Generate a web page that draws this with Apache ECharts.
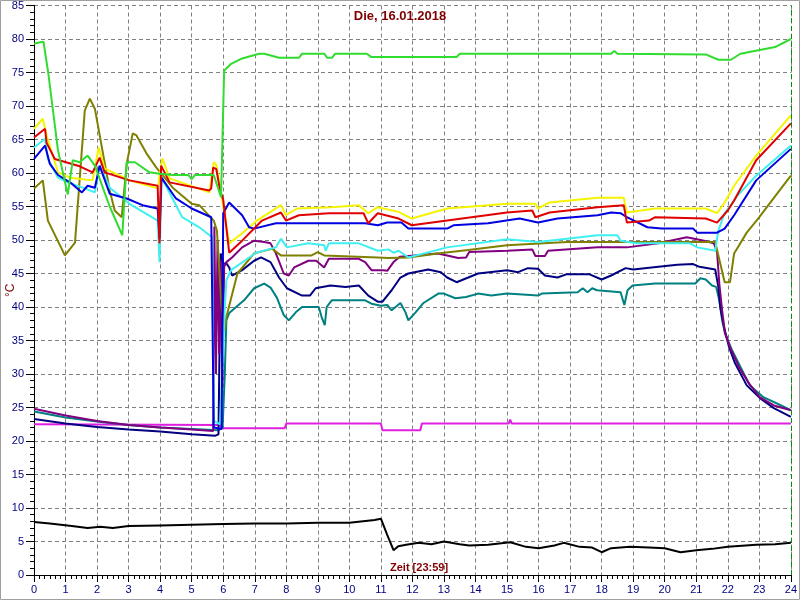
<!DOCTYPE html>
<html>
<head>
<meta charset="utf-8">
<script src="https://cdn.jsdelivr.net/npm/echarts@6/dist/echarts.min.js"></script>
<style>
html,body{margin:0;padding:0;background:#fff;}
#chart{width:800px;height:600px;}
</style>
</head>
<body>
<div id="chart"></div>
<script>
// ---- data: [hour, °C] ----
const titleText = 'Die, 16.01.2018';
const xName = 'Zeit [23:59]';
const yName = '°C';
const xTicks = [0,1,2,3,4,5,6,7,8,9,10,11,12,13,14,15,16,17,18,19,20,21,22,23,24];
const yTicks = [0,5,10,15,20,25,30,35,40,45,50,55,60,65,70,75,80,85];

const green = [[0,79.3],[0.2,79.5],[0.3,79.6],[0.45,75],[0.76,63.4],[1.07,56.8],[1.23,61.9],[1.45,61.6],[1.7,62.6],[1.93,61.1],[2.4,55],[2.8,50.7],[2.94,61.6],[3.2,61.6],[3.66,60.1],[3.98,59.9],[4.4,59.7],[4.9,59.7],[5.0,59.1],[5.1,59.7],[5.7,59.7],[5.93,56.4],[6.03,75.3],[6.25,76.3],[6.6,77.1],[7.14,77.8],[7.3,77.8],[7.77,77.2],[8.4,77.2],[8.5,77.8],[9.2,77.8],[9.3,77.2],[9.45,77.2],[9.55,77.8],[10.55,77.8],[10.7,77.3],[13.4,77.3],[13.5,77.8],[18.3,77.8],[18.4,78.2],[18.5,77.8],[21.3,77.7],[21.7,76.9],[22.1,76.9],[22.4,77.8],[23.5,78.8],[24,80]];
const olive = [[0,57.7],[0.28,58.9],[0.44,52.9],[0.98,47.7],[1.3,49.6],[1.61,69.3],[1.77,71.1],[1.93,69.6],[2.4,57.4],[2.56,54.4],[2.78,53.4],[2.94,61.4],[3.13,65.9],[3.25,65.6],[3.57,62.9],[3.88,60.8],[4.4,57.8],[5.0,55.4],[5.24,55.2],[5.7,52.9],[5.8,51.4],[5.95,40],[6.05,36.5],[6.1,38.5],[6.45,45],[6.98,48],[7.55,48.7],[7.83,47.7],[8.8,47.7],[9.0,48.2],[9.2,47.7],[10.9,47.4],[11.24,47.3],[11.87,47.4],[12.8,48],[13.77,48.5],[15.0,49.2],[16.9,49.7],[21.6,49.7],[21.66,48.5],[21.9,43.7],[22.07,43.7],[22.2,48],[22.6,51.1],[23.0,53.4],[23.4,55.9],[24,59.6]];
const yellow = [[0,66.6],[0.28,68.1],[0.4,65.6],[0.76,60.1],[1.14,59.3],[1.86,58.9],[2.05,63.8],[2.24,60.7],[3.03,58.9],[3.92,57.7],[4.07,62.2],[4.3,59.2],[5.56,57.1],[5.7,61.6],[5.78,61.2],[5.9,58],[6.0,55],[6.19,49.5],[6.6,51],[7.07,52.9],[7.83,55.2],[7.99,53.7],[8.34,54.7],[9.44,54.9],[10.3,55.2],[10.6,54],[10.9,54.9],[11.56,54.2],[11.98,53.2],[13.1,54.7],[15.0,55.4],[15.9,55.4],[15.98,54.7],[16.35,55.6],[17.87,56.3],[18.7,56.3],[18.8,54.1],[19.7,54.7],[21.3,54.7],[21.66,54],[21.9,55.6],[22.2,58.1],[22.9,62.6],[24,68.6]];
const red = [[0,65.3],[0.35,66.6],[0.4,64.5],[0.66,62.1],[1.45,61],[1.86,60.1],[2.08,62.3],[2.24,60.1],[3.03,58.9],[3.92,58.1],[3.98,49.5],[4.03,61.1],[4.3,58.6],[5.56,57.4],[5.62,57.7],[5.68,60.8],[5.78,60.6],[5.9,57.4],[6.0,56],[6.19,48.1],[6.6,49.9],[7.23,52.9],[7.83,54.1],[7.99,52.9],[8.4,53.7],[9.35,54],[10.45,54],[10.6,52.5],[10.9,54],[11.56,53.2],[11.98,52.2],[13.1,52.9],[15.0,54.1],[15.8,54.4],[15.9,53.4],[16.35,54.1],[17.87,54.9],[18.7,55.2],[18.8,52.6],[19.5,52.9],[19.7,53.4],[21.3,53.2],[21.66,52.6],[22.0,54.4],[22.2,55.9],[22.9,61.9],[24,67.4]];
const cyan = [[0,63.8],[0.35,65.1],[0.44,62.1],[0.76,59.3],[1.07,58.6],[1.61,57.7],[1.93,57.1],[2.08,61.1],[2.4,57.8],[3.03,55.4],[3.92,52.9],[3.98,46.7],[4.05,59.3],[4.7,53.4],[5.24,51.9],[5.65,50.4],[5.7,23],[5.9,22.5],[6.05,40],[6.1,44],[6.25,45.5],[7.04,48.1],[7.67,48.9],[7.83,50.2],[8.02,48.9],[8.7,49.5],[9.2,49.2],[9.25,48.4],[9.35,49.5],[10.3,49.5],[10.9,48.4],[11.24,48.6],[11.4,48.1],[11.56,48.4],[11.87,47.4],[13.1,48.9],[15.0,50.1],[15.98,49.7],[17.87,50.7],[18.5,50.7],[18.6,49.9],[19.1,49.5],[20.8,49.5],[21.03,48.9],[21.6,48.4],[21.7,51.4],[21.9,54],[22.1,55.2],[22.3,56.6],[22.9,59.6],[24,64.1]];
const blue = [[0,62.1],[0.35,64.1],[0.5,61.4],[0.76,59.7],[1.2,58.4],[1.52,57.1],[1.7,58.1],[1.93,57.8],[2.08,61.1],[2.4,56.9],[2.94,56.2],[3.44,55.2],[3.92,54.7],[3.98,50.2],[4.04,59.3],[4.5,56.2],[5.0,54.7],[5.62,53.4],[5.66,53.2],[5.7,22],[5.95,21.8],[6.0,54],[6.19,55.6],[6.6,53.7],[6.82,51.9],[6.98,51.7],[7.67,52.5],[10.5,52.5],[10.9,52.2],[11.2,52.6],[11.65,52.6],[11.87,51.7],[13.1,51.7],[13.3,52.2],[14.4,52.5],[15.4,53.2],[15.98,52.6],[16.6,53.2],[17.87,53.7],[18.3,54.1],[18.6,54],[18.8,53.4],[19.45,51.9],[19.9,51.7],[20.9,51.7],[21.03,51.1],[21.66,51.1],[21.9,51.7],[22.2,53.7],[22.9,58.9],[24,63.6]];
const purple = [[0,24.8],[1,23.8],[2,23.0],[3,22.4],[4,22.0],[5,21.7],[5.68,21.5],[5.72,52],[5.77,30],[5.82,50],[5.87,33],[5.92,47],[5.97,28],[6.03,46],[6.1,46.7],[6.28,47.4],[6.6,48.9],[6.98,49.9],[7.3,49.7],[7.5,49.5],[7.67,48],[7.92,45],[8.08,44.7],[8.25,45.9],[8.7,46.9],[8.95,46.9],[9.2,45.9],[9.35,47.2],[10.3,47.2],[10.5,46.7],[10.7,45.5],[11.08,45.5],[11.2,45.4],[11.4,46.7],[11.6,47.5],[12.8,48],[13.1,47.7],[13.45,47.3],[13.7,47.4],[13.8,48.2],[15,48.4],[15.8,48.6],[15.9,47.6],[16.2,47.6],[16.3,48.4],[17.87,48.9],[18.8,48.9],[19.8,49.5],[20.7,50.4],[21.25,49.9],[21.56,49.5],[21.66,48.2],[21.73,43.5],[21.82,39.5],[21.91,36.1],[22.07,34],[22.36,31],[22.67,28.6],[23.02,26.5],[23.46,25.3],[24,24.6]];
const navy = [[0,23.3],[1,22.6],[2,22.1],[3,21.7],[4,21.4],[5,21.0],[5.75,20.8],[5.85,21],[5.92,48],[6.0,46.5],[6.1,46.5],[6.19,45.9],[6.28,44.7],[6.6,45.5],[6.98,46.9],[7.2,47.4],[7.5,46.7],[7.77,44.4],[8.02,42.8],[8.5,41.7],[8.75,41.7],[8.93,42.8],[9.4,43.2],[9.88,43],[10.3,43.2],[10.6,41.7],[10.9,40.8],[11.05,40.8],[11.34,42.5],[11.62,44.4],[11.87,45],[12.5,45.6],[12.9,45.2],[13.1,44.4],[13.4,43.7],[13.77,44.4],[14.08,45],[15,45.5],[15.35,45.2],[15.66,45.8],[15.98,45.7],[16.2,44.7],[16.6,44.4],[16.9,44.9],[17.6,44.9],[18.0,44.1],[18.3,44.7],[18.76,45.8],[19.0,45.6],[19.8,46],[20.4,46.3],[20.9,46.4],[21.1,46],[21.6,45.6],[21.66,45.4],[21.7,43],[21.76,40],[21.88,37],[22.04,34],[22.23,31.6],[22.6,28.3],[23.02,26.4],[23.46,24.9],[24,23.6]];
const teal = [[0,24.4],[1,23.5],[2,22.9],[3,22.4],[4,22.0],[5,21.8],[5.85,21.6],[5.98,22],[6.05,30],[6.1,38],[6.19,39.1],[6.41,40],[6.66,41],[6.98,42.8],[7.3,43.5],[7.5,42.9],[7.7,41.4],[7.92,38.8],[8.08,38],[8.3,39.2],[8.5,40],[9.03,40],[9.12,38.5],[9.22,37.3],[9.28,40],[9.44,41],[10.5,41],[10.7,40.5],[11.0,40.2],[11.2,40.3],[11.34,39.5],[11.62,40.6],[11.78,39.2],[11.87,38],[12.1,39.2],[12.35,40.6],[12.82,42],[13.0,42],[13.36,41.3],[13.7,41.5],[14.08,42],[14.5,41.7],[15,42],[15.98,41.7],[16.1,42],[17.24,42.2],[17.4,42.8],[17.55,42.2],[17.7,42.8],[17.85,42.5],[18.6,42.2],[18.72,40.3],[18.82,42.5],[18.98,43.2],[19.7,43.5],[20.97,43.5],[21.13,44.3],[21.3,44.1],[21.5,43.2],[21.63,43],[21.73,41],[21.82,38],[21.91,36.1],[22.13,33.6],[22.45,30.6],[22.7,28.3],[23.14,26.5],[23.56,25.6],[24,24.6]];
const magenta = [[0,22.5],[5.9,22.4],[5.95,21.9],[7.95,21.9],[8.0,22.6],[11.0,22.6],[11.05,21.6],[12.25,21.6],[12.3,22.6],[15.05,22.6],[15.1,23.2],[15.15,22.6],[24,22.6]];
const black = [[0,7.9],[0.5,7.7],[1.2,7.3],[1.7,7.0],[2.1,7.2],[2.5,7.0],[3,7.3],[4,7.4],[5,7.5],[6,7.6],[7,7.7],[8,7.7],[9,7.8],[10,7.8],[10.8,8.2],[11.0,8.4],[11.2,6.0],[11.4,3.7],[11.55,4.3],[11.8,4.5],[12.2,4.8],[12.6,4.6],[13.0,5.0],[13.5,4.6],[13.8,4.4],[14.4,4.5],[15.1,4.9],[15.6,4.2],[16.0,4.0],[16.5,4.4],[16.8,4.8],[17.3,4.2],[17.7,4.1],[18.0,3.4],[18.3,4.0],[18.9,4.2],[19.5,4.1],[20.0,4.0],[20.5,3.4],[21.0,3.7],[21.5,3.9],[22,4.2],[22.9,4.5],[23.5,4.6],[24,4.8]];
const nowMarker = 24;

const seriesDefs = [
  ['magenta', magenta, '#e020e0'],
  ['black', black, '#000000'],
  ['teal', teal, '#008080'],
  ['navy', navy, '#000080'],
  ['purple', purple, '#800080'],
  ['olive', olive, '#808000'],
  ['cyan', cyan, '#40f0f0'],
  ['yellow', yellow, '#f4f400'],
  ['blue', blue, '#0000e0'],
  ['red', red, '#e00000'],
  ['green', green, '#30dc30']
];

const chart = echarts.init(document.getElementById('chart'), null, {renderer:'canvas'});
const series = seriesDefs.map(([name, data, color]) => ({
  name, type:'line', data, showSymbol:false, symbol:'none',
  lineStyle:{color, width:2}, itemStyle:{color}, animation:false, silent:true
}));
series[1].markLine = {
  silent:true, symbol:['none','none'], label:{show:false},
  lineStyle:{color:'#009000', type:[5,3], width:1},
  data:[{xAxis: nowMarker}]
};

chart.setOption({
  animation:false,
  backgroundColor:'#ffffff',
  grid:{left:34, right:6, top:5, bottom:25},
  xAxis:{
    type:'value', min:xTicks[0], max:xTicks[xTicks.length-1], interval:1,
    axisLine:{show:true, onZero:false, lineStyle:{color:'#000', width:1}},
    axisTick:{show:true, length:7, lineStyle:{color:'#000'}},
    minorTick:{show:true, splitNumber:6, length:4, lineStyle:{color:'#000'}},
    splitLine:{show:true, lineStyle:{color:'#808080', type:[4,3], width:1}},
    axisLabel:{color:'#000080', fontSize:11, fontFamily:'Liberation Sans, Arial', margin:9, showMaxLabel:true, showMinLabel:true}
  },
  yAxis:{
    type:'value', min:yTicks[0], max:yTicks[yTicks.length-1], interval:5,
    axisLine:{show:true, onZero:false, lineStyle:{color:'#000', width:1}},
    axisTick:{show:true, length:8, lineStyle:{color:'#000'}},
    minorTick:{show:true, splitNumber:5, length:4, lineStyle:{color:'#000'}},
    splitLine:{show:true, lineStyle:{color:'#808080', type:[4,3], width:1}},
    axisLabel:{color:'#000080', fontSize:11, fontFamily:'Liberation Sans, Arial', margin:10}
  },
  graphic:[
    {type:'rect', silent:true, shape:{x:0.5, y:0.5, width:799, height:599}, style:{fill:'none', stroke:'#a0a0a0', lineWidth:1}, z:100},
    {type:'text', silent:true, left:'center', top:10, style:{text:titleText, fill:'#800000', font:'bold 13px "Liberation Sans", Arial'}, z:100},
    {type:'text', silent:true, x:390, y:562, style:{text:xName, fill:'#800000', font:'bold 11px "Liberation Sans", Arial'}, z:100},
    {type:'text', silent:true, x:5, y:297, rotation:Math.PI/2, style:{text:yName, fill:'#800000', font:'12px "Liberation Sans", Arial'}, z:100}
  ],
  series
});
</script>
</body>
</html>
